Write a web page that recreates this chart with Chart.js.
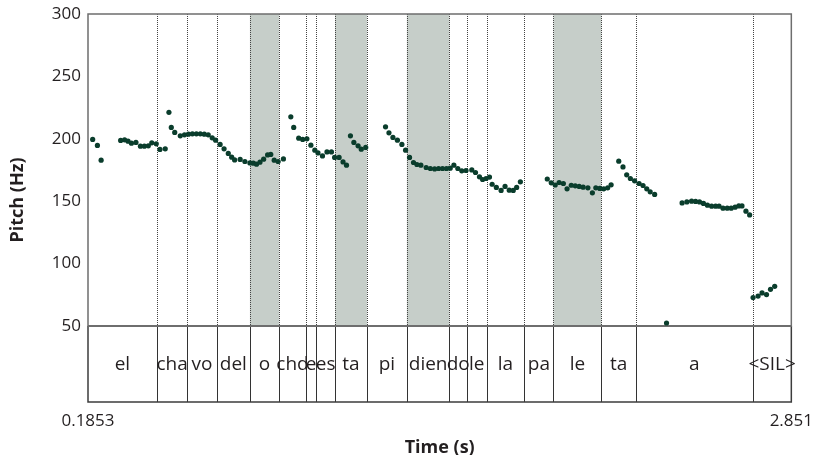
<!DOCTYPE html>
<html>
<head>
<meta charset="utf-8">
<script src="https://cdn.jsdelivr.net/npm/chart.js@4"></script>
<style>
body{margin:0;background:#fff;}
canvas{display:block;}
</style>
</head>
<body>
<canvas id="chart" width="813" height="455"></canvas>
<script>
// ================= DATA =================

// time range of the recording (s)
let tMin = 0.1853;
let tMax = 2.851;

// pitch track: time (s) and F0 (Hz)
let times = [
0.203,0.221,0.235,0.309,0.324,0.337,0.350,0.367,0.384,0.399,0.414,0.427,0.444,0.458,0.478,
0.492,0.501,0.514,0.535,0.551,0.566,0.581,0.596,0.611,0.626,0.641,0.656,0.669,0.686,0.701,
0.717,0.730,0.741,0.762,0.780,0.799,0.812,0.824,0.837,0.851,0.866,0.878,0.891,0.906,0.926,
0.954,0.965,0.984,0.999,1.015,1.030,1.045,1.057,1.074,1.091,1.108,1.120,1.137,1.152,1.165,
1.180,1.193,1.209,1.221,1.238,1.313,1.326,1.341,1.358,1.375,1.389,1.404,1.419,1.432,1.447,
1.467,1.483,1.499,1.514,1.529,1.544,1.558,1.572,1.587,1.602,1.618,1.640,1.654,1.669,1.681,
1.694,1.707,1.717,1.733,1.751,1.766,1.782,1.797,1.810,1.824,1.926,1.941,1.956,1.971,1.987,
2.001,2.017,2.032,2.047,2.062,2.080,2.097,2.110,2.125,2.140,2.155,2.168,2.197,2.213,2.227,
2.241,2.257,2.274,2.289,2.303,2.316,2.333,2.378,2.437,2.455,2.473,2.488,2.503,2.518,2.533,
2.549,2.564,2.577,2.592,2.608,2.623,2.638,2.652,2.664,2.679,2.693,2.706,2.725,2.740,2.757,
2.772,2.788
];
let pitch = [
199.5,194.7,182.9,198.7,199.2,198.1,196.5,197.1,194.1,194.1,194.4,196.8,196.0,191.5,192.0,
221.2,209.1,205.1,202.4,203.2,203.7,204.0,204.0,204.0,203.7,203.2,200.8,198.9,195.5,192.0,
188.3,185.3,183.1,183.5,181.8,180.7,180.5,179.7,181.3,183.7,187.1,187.5,182.9,181.8,183.9,
217.6,209.1,200.5,199.5,200.0,194.9,190.9,188.7,186.3,189.5,189.5,185.1,185.1,181.5,178.9,
202.4,197.1,194.4,191.7,193.1,209.6,204.8,201.1,198.9,195.5,190.9,185.1,181.0,179.4,178.9,
177.0,176.2,175.9,176.2,176.2,176.2,176.5,178.9,176.2,174.3,174.6,175.1,173.0,169.5,167.4,
168.2,169.3,163.6,161.0,158.6,161.8,158.8,158.6,161.0,165.5,167.8,164.7,163.0,165.0,164.2,
159.9,162.8,162.3,161.8,161.2,160.7,156.7,160.7,160.2,159.9,160.7,163.1,182.1,177.5,171.1,
168.2,166.3,164.2,162.6,159.9,157.5,155.4,52.4,148.6,149.4,150.0,149.8,149.4,148.2,146.8,
146.0,146.0,146.0,144.4,144.4,144.4,145.2,146.2,146.2,142.0,139.0,72.8,74.0,76.5,75.2,
79.4,81.8
];

// syllable tier: interval boundaries (s) and labels
let bounds = [0.1853,0.4462,0.5619,0.6731,0.7990,0.9098,1.0107,1.0512,1.1215,1.2425,
1.3938,1.5552,1.6214,1.6963,1.8388,1.9496,2.1311,2.2612,2.7058,2.851];
let syllables = ['el','cha','vo','del','o','chd','e','es','ta','pi','dien','do','le','la','pa','le','ta','a','<SIL>'];

// highlighted syllables (index into syllables)
let shaded = [4,8,10,15];

// pitch axis ticks
let yMin = 50;
let yMax = 300;
let yStep = 50;


// ================= TIER + FRAME =================
let FONT = '"Open Sans", "DejaVu Sans", sans-serif';
let INK = '#231f20';
let TIER_H = 76;

const tierPlugin = {
id:'tier',
beforeDatasetsDraw(chart){
let ctx = chart.ctx;
let a = chart.chartArea;
let x = chart.scales.x;
let tierBottom = a.bottom + TIER_H;

ctx.save();

// shaded syllables in the pitch area
ctx.fillStyle = '#c6cec9';
shaded.forEach(i => {
let x0 = x.getPixelForValue(bounds[i]);
let x1 = x.getPixelForValue(bounds[i+1]);
ctx.fillRect(x0, a.top, x1-x0, a.bottom-a.top);
});

// dotted boundary lines over the pitch area
ctx.strokeStyle = '#444';
ctx.lineWidth = 1;
ctx.setLineDash([1,1]);
for(let i=1;i<bounds.length-1;i++){
let px = Math.round(x.getPixelForValue(bounds[i]))+0.5;
ctx.beginPath();
ctx.moveTo(px, a.top);
ctx.lineTo(px, a.bottom);
ctx.stroke();
}
ctx.setLineDash([]);

// solid boundary lines in the tier
ctx.strokeStyle = '#333';
for(let i=1;i<bounds.length-1;i++){
let px = Math.round(x.getPixelForValue(bounds[i]))+0.5;
ctx.beginPath();
ctx.moveTo(px, a.bottom);
ctx.lineTo(px, tierBottom);
ctx.stroke();
}

// tier box
ctx.strokeStyle = '#3c3c3c';
ctx.lineWidth = 1.5;
ctx.beginPath();
ctx.moveTo(a.left, a.bottom);
ctx.lineTo(a.left, tierBottom);
ctx.lineTo(a.right, tierBottom);
ctx.lineTo(a.right, a.bottom);
ctx.stroke();

// pitch frame
ctx.strokeStyle = '#6e6e6e';
ctx.lineWidth = 1.5;
ctx.strokeRect(a.left, a.top, a.right-a.left, a.bottom-a.top);
ctx.lineWidth = 2;
ctx.beginPath();
ctx.moveTo(a.left, a.bottom);
ctx.lineTo(a.right, a.bottom);
ctx.stroke();

// syllable labels
ctx.fillStyle = INK;
ctx.font = '19px ' + FONT;
ctx.textAlign = 'center';
ctx.textBaseline = 'middle';
syllables.forEach((s,i) => {
let mid = (x.getPixelForValue(bounds[i]) + x.getPixelForValue(bounds[i+1]))/2;
ctx.fillText(s, mid, (a.bottom+tierBottom)/2 + 1);
});

// y axis title
ctx.translate(17.5, 200);
ctx.rotate(-Math.PI/2);
ctx.font = 'bold 18px ' + FONT;
ctx.fillText('Pitch (Hz)', 0, 0);

ctx.restore();
}
};


// ================= CHART =================
let ctx = document.getElementById('chart').getContext('2d');

let chart = new Chart(ctx, {
type: 'scatter',
data: {
datasets: [{
data: times.map((t,i) => ({x:t, y:pitch[i]})),
backgroundColor: '#0a3d2c',
borderColor: '#0a3d2c',
borderWidth: 0,
pointRadius: 2.6,
pointHoverRadius: 2.6
}]
},
options: {
responsive: false,
animation: false,
events: [],
layout: { padding: { top:14, right:20, bottom:0, left:0 } },
plugins: { legend:{display:false}, tooltip:{enabled:false} },
scales: {
x: {
type: 'linear',
min: tMin,
max: tMax,
// invisible tick marks push the end labels below the tier
grid: { display:true, drawOnChartArea:false, drawTicks:true, tickLength:TIER_H + 9, color:'rgba(0,0,0,0)' },
border: { display:false },
afterBuildTicks: s => { s.ticks = [{value:tMin},{value:tMax}]; },
afterFit: s => { s.height = 129; },
ticks: {
padding: 0,
maxRotation: 0,
autoSkip: false,
color: INK,
font: { family: FONT, size: 17 },
callback: v => String(v)
},
title: {
display: true,
text: 'Time (s)',
color: INK,
font: { family: FONT, size: 18, weight: 'bold', lineHeight: 1 },
padding: { top:0, bottom:-2 }
}
},
y: {
min: yMin,
max: yMax,
grid: { display:false, drawTicks:false },
border: { display:false },
afterFit: s => { s.width = 88; s.paddingTop = 0; s.paddingBottom = 0; },
ticks: {
stepSize: yStep,
padding: 7,
color: INK,
font: { family: FONT, size: 17 }
}
}
}
},
plugins: [tierPlugin]
});
</script>
</body>
</html>
